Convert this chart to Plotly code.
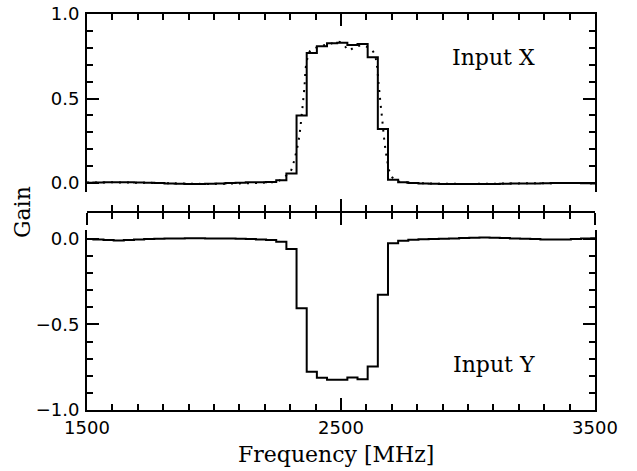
import numpy as np
import plotly.graph_objects as go

# ---------------- data ----------------
bin_start = 1485          # MHz, left edge of first channel
bin_width = 40            # MHz
# Input X (top panel, measured, stepped)
gain_x = [0.002, 0.003, 0.004, 0.005, 0.004, 0.003, 0.002, 0.000, -0.002, -0.004,
          -0.005, -0.005, -0.004, -0.002, 0.000, 0.002, 0.004, 0.005, 0.006,
          0.016, 0.056, 0.400, 0.770, 0.810, 0.827, 0.830, 0.817, 0.823, 0.745,
          0.320, 0.020, 0.005,
          0.000, -0.002, -0.004, -0.005, -0.006, -0.006, -0.006, -0.005, -0.005,
          -0.004, -0.003, -0.002, -0.002, -0.001, 0.000, 0.000, 0.000, -0.001, -0.002]
# Input Y (bottom panel, measured, stepped)
gain_y = [0.000, -0.002, -0.006, -0.008, -0.005, -0.002, 0.000, 0.002, 0.003, 0.004,
          0.005, 0.005, 0.004, 0.004, 0.003, 0.002, 0.000, -0.003, -0.005,
          -0.016, -0.058, -0.405, -0.777, -0.812, -0.824, -0.824, -0.810, -0.820, -0.746,
          -0.326, -0.024, -0.010,
          -0.004, -0.001, 0.000, 0.002, 0.004, 0.006, 0.008, 0.009, 0.008,
          0.006, 0.004, 0.002, 0.000, -0.002, -0.003, -0.002, 0.000, 0.003, 0.005]
# Model curve for Input X (dotted)
model_freq = [1500, 1600, 1700, 1800, 1900, 2000, 2100, 2200, 2250, 2280, 2300, 2320,
              2335, 2345, 2355, 2365, 2380, 2400, 2430, 2460, 2495, 2515, 2530, 2550,
              2580, 2610, 2630, 2640, 2648, 2655, 2662, 2670, 2680, 2693, 2710, 2730,
              2760, 2800, 2900, 3000, 3100, 3200, 3300, 3400, 3500]
model_gain = [0.003, 0.004, 0.002, 0.000, -0.004, -0.005, -0.002, 0.003, 0.010, 0.040,
              0.065, 0.160, 0.270, 0.400, 0.550, 0.720, 0.785, 0.800, 0.815, 0.825,
              0.835, 0.810, 0.785, 0.800, 0.815, 0.800, 0.770, 0.710, 0.590, 0.480,
              0.380, 0.260, 0.150, 0.060, 0.020, 0.008, 0.003, 0.000, -0.004, -0.005,
              -0.004, -0.002, -0.001, 0.000, -0.001]

x_range = [1500, 3500]
top_range = [-0.053, 1.0005]
bot_range = [-1.0005, 0.053]
top_label = "Input X"
bot_label = "Input Y"
x_title = "Frequency [MHz]"
y_title = "Gain"

# ---------------- figure ----------------
edges = bin_start + bin_width * np.arange(len(gain_x) + 1)
step_x = list(gain_x) + [gain_x[-1]]
step_y = list(gain_y) + [gain_y[-1]]

fig = go.Figure()
fig.add_trace(go.Scatter(x=edges, y=step_x, mode="lines", line_shape="hv",
                         line=dict(color="black", width=2), xaxis="x2", yaxis="y",
                         showlegend=False))
fig.add_trace(go.Scatter(x=model_freq, y=model_gain, mode="lines", line_shape="spline",
                         line=dict(color="black", width=2, dash="2px,6px"),
                         xaxis="x2", yaxis="y", showlegend=False))
fig.add_trace(go.Scatter(x=edges, y=step_y, mode="lines", line_shape="hv",
                         line=dict(color="black", width=2), xaxis="x", yaxis="y2",
                         showlegend=False))
# dummy traces so the middle (shared) axes are drawn
for ax in ["x3", "x4"]:
    fig.add_trace(go.Scatter(x=[None], y=[None], xaxis=ax, yaxis="y2",
                             showlegend=False, hoverinfo="skip"))

tickfont = dict(family="DejaVu Sans", size=18, color="black")
titlefont = dict(family="DejaVu Serif", size=22, color="black")

xcommon = dict(range=x_range, tickmode="linear", tick0=1500, dtick=1000,
               ticklen=12, tickwidth=2, tickcolor="black", automargin=False,
               showline=True, linecolor="black", linewidth=2,
               showgrid=False, zeroline=False, ticklabeloverflow="allow",
               minor=dict(tick0=1500, dtick=100, ticklen=6, tickwidth=2,
                          tickcolor="black", showgrid=False))
ycommon = dict(tickmode="linear", tick0=0, dtick=0.5, tickformat=".1f",
               ticks="inside", ticklen=12, tickwidth=2, tickcolor="black",
               showline=True, linecolor="black", linewidth=2, mirror="ticks",
               showgrid=False, zeroline=False, tickfont=tickfont, automargin=False,
               ticklabelstandoff=2, ticklabeloverflow="allow",
               minor=dict(dtick=0.1, ticks="inside", ticklen=6, tickwidth=2,
                          tickcolor="black", showgrid=False))

fig.update_layout(
    template="none",
    width=637, height=471,
    margin=dict(l=87, r=42, t=14, b=61, autoexpand=False),
    paper_bgcolor="white", plot_bgcolor="white",
    xaxis=dict(**xcommon, anchor="y2", side="bottom", ticks="inside",
               showticklabels=True, tickfont=tickfont, ticklabelstandoff=0),
    xaxis2=dict(**xcommon, anchor="y", side="top", ticks="inside",
                showticklabels=False),
    xaxis3=dict(**xcommon, anchor="free", position=0.501, overlaying="x",
                side="bottom", ticks="outside", showticklabels=False),
    xaxis4=dict(**xcommon, anchor="free", position=0.501, overlaying="x",
                side="bottom", ticks="inside", showticklabels=False),
    yaxis=dict(**ycommon, domain=[0.5505, 1.0], range=top_range, anchor="x2"),
    yaxis2=dict(**ycommon, domain=[0.0, 0.4545], range=bot_range, anchor="x"),
)
fig.update_layout(xaxis3_minor_ticks="outside", xaxis4_minor_ticks="inside",
                  xaxis_minor_ticks="inside", xaxis2_minor_ticks="inside")

fig.add_annotation(text=top_label, x=3102, y=0.746, xref="x2", yref="y",
                   xanchor="center", yanchor="middle",
                   showarrow=False, font=titlefont)
fig.add_annotation(text=bot_label, x=3102, y=-0.736, xref="x", yref="y2",
                   xanchor="center", yanchor="middle",
                   showarrow=False, font=titlefont)
fig.add_annotation(text=x_title, x=0.49, y=-0.113, xref="paper", yref="paper",
                   xanchor="center", yanchor="middle",
                   showarrow=False, font=titlefont)
fig.add_annotation(text=y_title, x=-0.127, y=0.501, xref="paper", yref="paper",
                   xanchor="center", yanchor="middle",
                   textangle=-90, showarrow=False, font=titlefont)

# remove the page's default body margin so the figure fills the window exactly
fig.write_html("out.html", config={"displayModeBar": False},
               post_script="document.body.style.margin='0px';")
